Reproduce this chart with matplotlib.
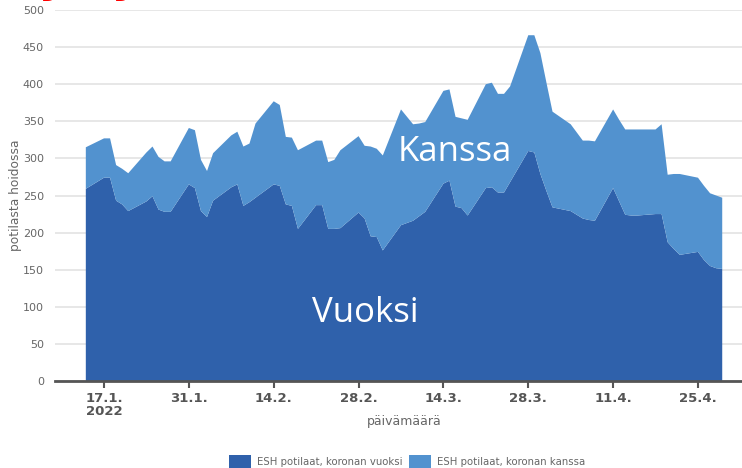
import matplotlib
matplotlib.use("Agg")
import matplotlib.pyplot as plt
import matplotlib.dates as mdates
import pandas as pd
import numpy as np
from matplotlib.patches import Patch

# Business days 14.1.2022 - 29.4.2022
dates = pd.bdate_range("2022-01-14", "2022-04-29")

vuoksi = [259,
          274, 274, 243, 238, 229,
          242, 249, 231, 228, 228,
          265, 260, 229, 221, 243,
          261, 265, 236, 241, 247,
          265, 263, 238, 236, 205,
          237, 237, 205, 205, 206,
          227, 219, 195, 194, 176,
          210, 213, 216, 222, 228,
          266, 270, 235, 233, 223,
          260, 261, 254, 254, 268,
          310, 308, 279, 256, 234,
          229, 224, 219, 217, 216,
          260, 242, 224, 223, 223,
          225, 225, 187, 178, 170,
          174, 163, 155, 152, 151]

kanssa = [56,
          53, 53, 48, 48, 51,
          66, 67, 71, 68, 68,
          76, 78, 69, 62, 64,
          70, 71, 80, 79, 100,
          112, 109, 91, 92, 106,
          87, 87, 90, 93, 105,
          103, 98, 121, 119, 128,
          156, 143, 130, 125, 121,
          125, 123, 121, 121, 129,
          140, 141, 133, 133, 129,
          156, 158, 163, 146, 129,
          117, 111, 105, 107, 107,
          106, 110, 115, 116, 116,
          114, 121, 91, 101, 109,
          100, 100, 98, 98, 96]

tick_dates = pd.to_datetime(["2022-01-17", "2022-01-31", "2022-02-14", "2022-02-28",
                             "2022-03-14", "2022-03-28", "2022-04-11", "2022-04-25"])
tick_labels = ["17.1.\n2022", "31.1.", "14.2.", "28.2.", "14.3.", "28.3.", "11.4.", "25.4."]

series_names = ["ESH potilaat, koronan vuoksi", "ESH potilaat, koronan kanssa"]
colors = ["#2f61ab", "#5292cf"]

W, H = 742, 468
fig = plt.figure(figsize=(W / 100, H / 100), dpi=100)
ax = fig.add_axes([55 / W, 1 - 381 / H, (W - 55) / W, (381 - 10) / H])

x = mdates.date2num(dates)
ax.stackplot(x, vuoksi, kanssa, colors=colors, linewidth=0, zorder=2)

ax.set_ylim(0, 500)
ax.set_yticks(np.arange(0, 501, 50))
x0 = mdates.date2num(pd.Timestamp("2022-01-17"))
ax.set_xlim(x0 - 49 / 6.061, x0 + (W - 104) / 6.061)
ax.set_xticks(mdates.date2num(tick_dates))
ax.set_xticklabels(tick_labels, fontweight="bold", fontsize=9.5, color="#555555",
                   linespacing=0.95)

ax.grid(axis="y", color="#e3e3e3", linewidth=1.2, zorder=0)
ax.set_axisbelow(True)
for s in ["top", "right", "left"]:
    ax.spines[s].set_visible(False)
ax.spines["bottom"].set_color("#555555")
ax.spines["bottom"].set_linewidth(2)
ax.spines["bottom"].set_zorder(5)
ax.tick_params(axis="y", length=0, pad=8, labelsize=8, labelcolor="#666666")
ax.tick_params(axis="x", length=5, width=1.5, color="#555555", pad=3)

ax.set_ylabel("potilasta hoidossa", fontsize=8.8, color="#666666")
ax.yaxis.set_label_coords(-(55 - 22) / (W - 55), 0.5)
ax.set_xlabel("päivämäärä", fontsize=9, color="#666666")
ax.xaxis.set_label_coords((404 - 55) / (W - 55), -(415 - 381) / (381 - 10))

ax.text(x0 + (455 - 104) / 6.061, (381 - 152) / 0.742, "Kanssa", color="white",
        fontsize=25, family="Open Sans", ha="center", va="center", zorder=4)
ax.text(x0 + (365 - 104) / 6.061, (381 - 313) / 0.742, "Vuoksi", color="white",
        fontsize=25, family="Open Sans", ha="center", va="center", zorder=4)

handles = [Patch(facecolor=c, edgecolor="none") for c in colors]
fig.legend(handles, series_names, loc="center", bbox_to_anchor=(407 / W, 6 / H),
           ncol=2, frameon=False, fontsize=7.3, labelcolor="#666666",
           handlelength=2.2, handleheight=1.6, handletextpad=0.6, columnspacing=0.6)

# cut-off red title at the very top
fig.text(43 / W, 1 + 8.5 / H, "y", color="red", fontsize=30, fontweight="bold",
         style="italic", va="baseline")
fig.text(116 / W, 1 + 8.5 / H, "y", color="red", fontsize=30, fontweight="bold",
         style="italic", va="baseline")

fig.savefig("out.png", dpi=100)
